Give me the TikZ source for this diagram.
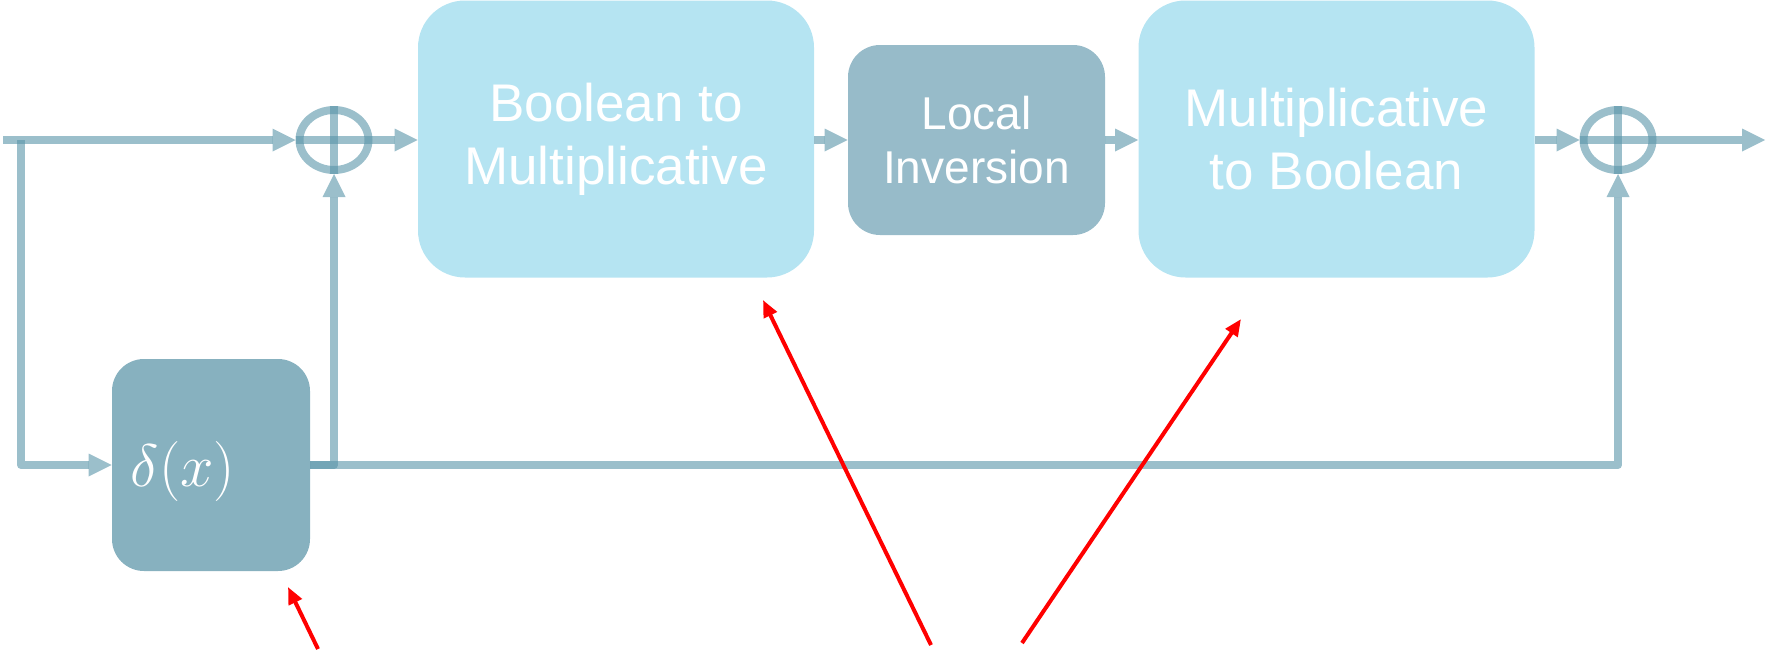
\documentclass[tikz,border=0pt]{standalone}
\usepackage{fix-cm}
\usepackage{fontspec}
\setmainfont{Liberation Sans}
\usetikzlibrary{arrows.meta,shapes.geometric}
\definecolor{lightbox}{RGB}{181,228,242}
\definecolor{libox}{RGB}{151,187,201}
\definecolor{dbox}{RGB}{135,177,191}
\definecolor{wirec}{RGB}{88,148,168}
\begin{document}
\begin{tikzpicture}[x=0.5pt,y=-0.5pt,
  wire/.style={draw=wirec, opacity=0.6, line width=4pt, line join=round},
  arr/.style={wire, -{Triangle[length=11.5pt,width=11.5pt,line width=0pt]}},
  bigbox/.style={fill=lightbox, rounded corners=23.5pt, minimum width=198pt, minimum height=138.5pt, text=white, font=\fontsize{26.5}{31.5}\selectfont, align=center, inner sep=0pt},
  libox/.style={fill=libox, rounded corners=16pt, minimum width=128.5pt, minimum height=95pt, text=white, font=\fontsize{23}{27}\selectfont, align=center, inner sep=0pt},
  dbox/.style={fill=dbox, rounded corners=16pt, minimum width=99pt, minimum height=106pt, inner sep=0pt},
  dtext/.style={text=white, font=\fontsize{30}{34}\selectfont, inner sep=0pt},
  xor/.style={ellipse, draw=wirec, opacity=0.6, line width=4pt, minimum width=34.5pt, minimum height=30pt, inner sep=0pt},
  redarr/.style={draw=red, line width=2pt, -{Triangle[length=8.5pt,width=7pt]}}
]
\useasboundingbox (0,0) rectangle (1767,649);
\node[bigbox] (b2m) at (616,139) {Boolean to\\Multiplicative};
\node[libox] (li) at (976.5,140) {Local\\Inversion};
\node[bigbox] (m2b) at (1336.5,139) {Multiplicative\\to Boolean};
\node[dbox] (dl) at (211,465) {};
\node[dtext] (dlt) at (183,471) {$\delta(x)$};
\node[xor] (x1) at (334,140) {};
\node[xor] (x2) at (1618,140) {};
\coordinate (in) at (3,140);
\coordinate (br) at (21,140);
\coordinate (out) at (1765,140);
\draw[arr] (in) -- (x1.west);
\draw[wire] (x1.west) -- (x1.east);
\draw[wire] (x1.north) -- (x1.south);
\draw[arr] (x1.east) -- (b2m.west |- x1.east);
\draw[arr] (b2m.east |- x1.east) -- (li.west);
\draw[arr] (li.east) -- (m2b.west |- li.east);
\draw[arr] (m2b.east |- x2.west) -- (x2.west);
\draw[wire] (x2.west) -- (x2.east);
\draw[wire] (x2.north) -- (x2.south);
\draw[arr] (x2.east) -- (out);
\draw[arr] (br) |- (dl.west);
\draw[arr] (dl.east) -| (x1.south);
\draw[arr] (dl.east) -| (x2.south);
\coordinate (r1s) at (318,649);
\coordinate (r1t) at (288,587);
\coordinate (r2s) at (931,645);
\coordinate (r2t) at (763,300);
\coordinate (r3s) at (1022,643);
\coordinate (r3t) at (1241,319);
\draw[redarr] (r1s) -- (r1t);
\draw[redarr] (r2s) -- (r2t);
\draw[redarr] (r3s) -- (r3t);
\end{tikzpicture}
\end{document}
